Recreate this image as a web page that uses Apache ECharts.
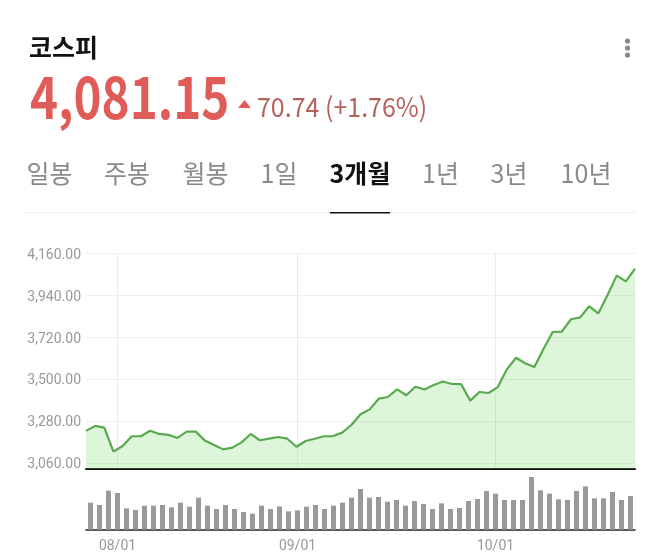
<!DOCTYPE html>
<html>
<head>
    <meta charset="utf-8">
    <title>코스피 3개월</title>
    <script src="https://cdn.jsdelivr.net/npm/echarts@6/dist/echarts.min.js"></script>
    <style>
        body, html { margin: 0; padding: 0; width: 100%; height: 100%; overflow: hidden; background: #fff; }
        #main { width: 660px; height: 552px; }
    </style>
</head>
<body>
    <div id="main"></div>
    <script type="text/javascript">
        // trading days of the 3 month view
        var dates = [
            '07/29','07/30','07/31','08/01','08/04','08/05','08/06','08/07','08/08','08/11',
            '08/12','08/13','08/14','08/18','08/19','08/20','08/21','08/22','08/25','08/26',
            '08/27','08/28','08/29','09/01','09/02','09/03','09/04','09/05','09/08','09/09',
            '09/10','09/11','09/12','09/15','09/16','09/17','09/18','09/19','09/22','09/23',
            '09/24','09/25','09/26','09/29','09/30','10/01','10/02','10/10','10/13','10/14',
            '10/15','10/16','10/17','10/20','10/21','10/22','10/23','10/24','10/27','10/28','10/29'
        ];
        var closes = [
            3230,3256,3247,3121,3151,3202,3202,3231,3214,3209,
            3193,3226,3226,3179,3156,3133,3142,3170,3214,3181,
            3189,3198,3189,3147,3177,3189,3202,3203,3221,3261,
            3317,3343,3399,3408,3448,3417,3462,3447,3471,3489,
            3476,3475,3389,3434,3429,3460,3553,3614,3585,3565,
            3660,3749,3751,3816,3826,3884,3847,3943,4045,4015,4081.15
        ];
        var volumes = [
            81,74,117,110,64,59,72,72,74,67,
            81,69,96,72,62,74,62,53,48,72,
            62,70,55,58,69,74,62,72,81,96,
            122,96,98,84,89,72,86,77,62,79,
            62,65,86,92,116,108,89,89,89,158,
            118,108,91,89,116,130,94,94,113,89,101
        ];
        var priceTicks = [3060, 3280, 3500, 3720, 3940, 4160];
        var monthTicks = ['08/01', '09/01', '10/01'];
        var tabs = ['일봉', '주봉', '월봉', '1일', '3개월', '1년', '3년', '10년'];
        var tabCenters = [49.5, 127, 205.5, 279, 360, 440.5, 509, 586];

        var cjk = '"Noto Sans CJK KR", sans-serif';
        var isMonthTick = function (index, value) { return monthTicks.indexOf(value) >= 0; };

        var graphics = [
            { type: 'text', x: 29, y: 47, style: { text: '코스피', font: '700 25px ' + cjk, fill: '#111', textVerticalAlign: 'middle' } },
            { type: 'text', x: 30, y: 97, scaleX: 0.82, style: { text: '4,081.15', font: '700 58px ' + cjk, fill: '#e05c58', textVerticalAlign: 'middle' } },
            { type: 'polygon', shape: { points: [[244.5, 100], [251, 108], [238, 108]] }, style: { fill: '#e05c58' } },
            { type: 'text', x: 257, y: 107, scaleX: 0.925, style: { text: '70.74 (+1.76%)', font: '400 27px ' + cjk, fill: '#b5625f', textVerticalAlign: 'middle' } },
            { type: 'circle', shape: { cx: 627.5, cy: 41, r: 2.6 }, style: { fill: '#888' } },
            { type: 'circle', shape: { cx: 627.5, cy: 48, r: 2.6 }, style: { fill: '#888' } },
            { type: 'circle', shape: { cx: 627.5, cy: 55, r: 2.6 }, style: { fill: '#888' } },
            { type: 'rect', shape: { x: 26, y: 212, width: 610, height: 1 }, style: { fill: '#eeeeee' } },
            { type: 'rect', shape: { x: 330, y: 212, width: 60, height: 1.5 }, style: { fill: '#111' } }
        ];
        tabs.forEach(function (t, i) {
            var active = t === '3개월';
            graphics.push({
                type: 'text', x: tabCenters[i], y: 173,
                style: {
                    text: t,
                    font: (active ? '700' : '400') + ' 25px ' + cjk,
                    fill: active ? '#111' : '#8a8a8a',
                    textAlign: 'center',
                    textVerticalAlign: 'middle'
                }
            });
        });

        var myChart = echarts.init(document.getElementById('main'), null, { renderer: 'canvas' });
        myChart.setOption({
            animation: false,
            backgroundColor: '#fff',
            graphic: graphics,
            grid: [
                { left: 86, right: 25, top: 253.7, height: 215.3, outerBoundsMode: 'none' },
                { left: 86, right: 25, top: 470, height: 59.7, outerBoundsMode: 'none' }
            ],
            xAxis: [
                {
                    type: 'category', gridIndex: 0, data: dates, boundaryGap: false,
                    axisLine: { lineStyle: { color: '#111', width: 2 } },
                    axisTick: { show: false }, axisLabel: { show: false }, splitLine: { show: false }
                },
                {
                    // only carries the month lines, they sit on the bar centres
                    type: 'category', gridIndex: 0, data: dates, boundaryGap: true, position: 'bottom',
                    axisLine: { show: false }, axisTick: { show: false }, axisLabel: { show: false },
                    splitLine: { show: true, interval: isMonthTick, alignWithLabel: true, lineStyle: { color: '#eaeaea', width: 1 } }
                },
                {
                    type: 'category', gridIndex: 1, data: dates, boundaryGap: true,
                    axisLine: { lineStyle: { color: '#222', width: 1.5 } },
                    axisTick: { interval: isMonthTick, alignWithLabel: true, length: 4, lineStyle: { color: '#222', width: 1.5 } },
                    axisLabel: { interval: isMonthTick, color: '#999', fontFamily: 'Roboto', fontSize: 14, margin: 10 },
                    splitLine: { show: false }
                }
            ],
            yAxis: [
                {
                    type: 'value', gridIndex: 0, min: 3030, max: 4160,
                    axisLine: { show: false },
                    axisTick: { show: false, customValues: priceTicks },
                    axisLabel: {
                        customValues: priceTicks, margin: 5,
                        rich: { p: { color: '#999', fontFamily: 'Roboto', fontSize: 14, padding: [3, 0, 0, 0] } },
                        formatter: function (v) { return '{p|' + v.toLocaleString('en-US', { minimumFractionDigits: 2 }) + '}'; }
                    },
                    splitLine: { show: true, lineStyle: { color: '#eeeeee', width: 1 } }
                },
                {
                    type: 'value', gridIndex: 1, min: 0, max: 179, show: false
                }
            ],
            series: [
                {
                    type: 'line', xAxisIndex: 0, yAxisIndex: 0, data: closes,
                    symbol: 'none', smooth: false,
                    lineStyle: { color: '#5aa950', width: 2.2 },
                    areaStyle: { color: 'rgba(120,215,105,0.25)', opacity: 1, origin: 'start' }
                },
                {
                    type: 'bar', xAxisIndex: 2, yAxisIndex: 1, data: volumes,
                    barWidth: 5, itemStyle: { color: '#999999' }
                }
            ]
        });
    </script>
</body>
</html>
